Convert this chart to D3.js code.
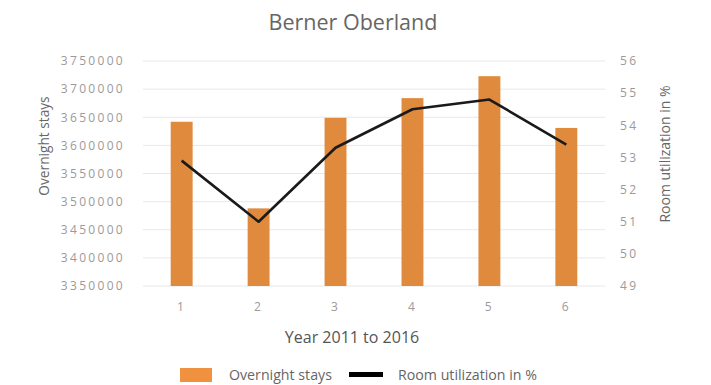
<!DOCTYPE html>
<html>
<head>
<meta charset="utf-8">
<script src="https://cdn.jsdelivr.net/npm/d3@7"></script>
<style>
  html, body { margin: 0; padding: 0; background: #fff; }
  svg { display: block; }
  text { font-family: "Open Sans", "DejaVu Sans", sans-serif; }
</style>
</head>
<body>
<svg id="chart" width="711" height="385"></svg>
<script>
// Overnight stays and room utilization, Berner Oberland, 2011–2016
const years = ["1", "2", "3", "4", "5", "6"];
const overnightStays = [3642000, 3488000, 3649000, 3684000, 3723000, 3631000];
const roomUtilization = [52.9, 51.0, 53.3, 54.5, 54.8, 53.4];
const leftTicks = [3350000, 3400000, 3450000, 3500000, 3550000, 3600000, 3650000, 3700000, 3750000];
const rightTicks = [49, 50, 51, 52, 53, 54, 55, 56];

const svg = d3.select("#chart");
const margin = { top: 61, left: 143, right: 106, bottom: 99 };
const W = 711, H = 385;
const x0 = margin.left, x1 = W - margin.right;
const yTop = margin.top, yBot = H - margin.bottom;

const x = d3.scaleBand().domain(years).range([x0, x1]).paddingInner(0.715).paddingOuter(0.36);
const yL = d3.scaleLinear().domain([3350000, 3750000]).range([yBot, yTop]);
const yR = d3.scaleLinear().domain([49, 56]).range([yBot, yTop]);

const tickColor = "#9a9a9a";

// gridlines on the left scale
svg.append("g")
  .selectAll("line")
  .data(leftTicks)
  .join("line")
  .attr("x1", x0).attr("x2", x1)
  .attr("y1", d => yL(d)).attr("y2", d => yL(d))
  .attr("stroke", "#e8e8e8").attr("stroke-width", 1);

function styleTicks(g) {
  g.select(".domain").remove();
  g.selectAll("text")
    .attr("fill", tickColor)
    .style("font-size", "12px")
    .style("letter-spacing", "2.3px");
}

// left axis
svg.append("g").attr("transform", `translate(${x0 - 3},0)`)
  .call(d3.axisLeft(yL).tickValues(leftTicks).tickFormat(d3.format("d")).tickSize(0).tickPadding(15))
  .call(styleTicks);

// right axis
svg.append("g").attr("transform", `translate(${x1},0)`)
  .call(d3.axisRight(yR).tickValues(rightTicks).tickFormat(d3.format("d")).tickSize(0).tickPadding(15))
  .call(styleTicks);

// bottom axis
svg.append("g").attr("transform", `translate(0,${yBot})`)
  .call(d3.axisBottom(x).tickSize(0).tickPadding(16))
  .call(styleTicks);

// bars
svg.append("g")
  .selectAll("rect")
  .data(overnightStays)
  .join("rect")
  .attr("x", (d, i) => x(years[i]))
  .attr("width", x.bandwidth())
  .attr("y", d => yL(d))
  .attr("height", d => yBot - yL(d))
  .attr("fill", "#e08a3e");

// utilization line
const line = d3.line()
  .x((d, i) => x(years[i]) + x.bandwidth() / 2)
  .y(d => yR(d));
svg.append("path")
  .datum(roomUtilization)
  .attr("d", line)
  .attr("fill", "none")
  .attr("stroke", "#1a1a1a")
  .attr("stroke-width", 2.6)
  .attr("stroke-linejoin", "round");

// title
svg.append("text")
  .attr("x", 353).attr("y", 30)
  .attr("text-anchor", "middle")
  .attr("fill", "#666")
  .style("font-size", "21.5px")
  .text("Berner Oberland");

// axis titles
svg.append("text")
  .attr("transform", "translate(49,146) rotate(-90)")
  .attr("text-anchor", "middle")
  .attr("fill", "#666")
  .style("font-size", "13.7px")
  .text("Overnight stays");

svg.append("text")
  .attr("transform", "translate(670,154) rotate(-90)")
  .attr("text-anchor", "middle")
  .attr("fill", "#666")
  .style("font-size", "14px")
  .text("Room utilization in %");

svg.append("text")
  .attr("x", 352).attr("y", 343)
  .attr("text-anchor", "middle")
  .attr("fill", "#555")
  .style("font-size", "16px")
  .text("Year 2011 to 2016");

// legend
const lg = svg.append("g");
lg.append("rect").attr("x", 180).attr("y", 368).attr("width", 32).attr("height", 14).attr("fill", "#f0913f");
lg.append("text").attr("x", 229).attr("y", 380).attr("fill", "#666").style("font-size", "14.2px").text("Overnight stays");
lg.append("rect").attr("x", 349).attr("y", 372).attr("width", 34).attr("height", 5).attr("fill", "#000");
lg.append("text").attr("x", 398).attr("y", 380).attr("fill", "#666").style("font-size", "14.2px").text("Room utilization in %");
</script>
</body>
</html>
